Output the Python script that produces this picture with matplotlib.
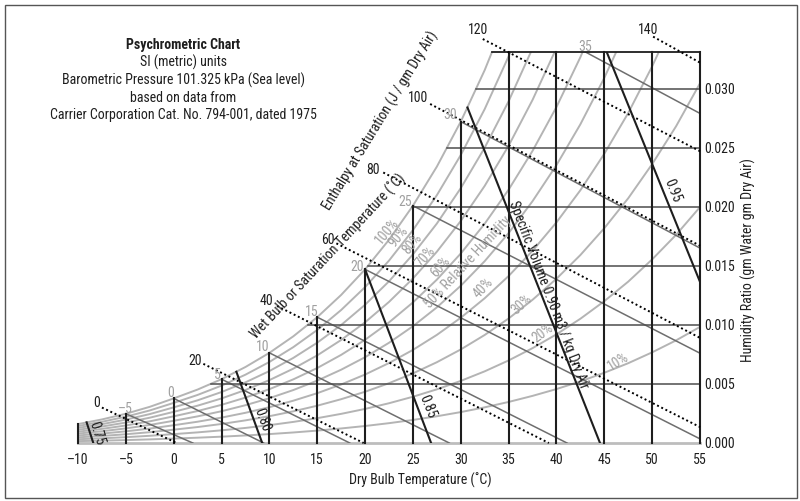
"""
Psychrometric chart (SI units, sea level) redrawn with matplotlib.
"""
import numpy as np
import matplotlib
matplotlib.use("Agg")
import matplotlib.pyplot as plt
from matplotlib import font_manager
from matplotlib.patches import Rectangle
from matplotlib.textpath import TextPath

P_ATM = 101.325   # kPa, sea level
W_TOP = 0.0331    # humidity ratio at top edge of the chart

## Saturation vapour pressure table (kPa), over ice below 0 C
TABLE_T = np.arange(-10, 55.1, 2.5)
P_SAT = [0.2599, 0.3238, 0.4017, 0.4965, 0.6112, 0.7318, 0.8726, 1.0373, 1.2282,
         1.4500, 1.7058, 2.0016, 2.3392, 2.7270, 3.1699, 3.6730, 4.2460, 4.8940,
         5.6290, 6.4570, 7.3849, 8.4250, 9.5944, 10.888, 12.352, 13.958, 15.763]

RH_LEVELS = [10, 20, 30, 40, 50, 60, 70, 80, 90, 100]
RH_LABELS = ["10%", "20%", "30%", "40%", "50% Relative Humidity", "60%", "70%", "80%", "90%", "100%"]
RH_LABEL_AT = [(46.43, 0.00686), (38.6, 0.00932), (36.4, 0.0117), (32.4, 0.0131),
               (30.7, 0.01534), (27.9, 0.01492), (26.3, 0.01580), (24.9, 0.01686),
               (23.44, 0.01746), (22.35, 0.01795)]
RH_LABEL_ROT = [32, 37, 43, 47, 47, 49, 50, 50, 50, 50]

DRY_BULB = [-10, -5, 0, 5, 10, 15, 20, 25, 30, 35, 40, 45, 50, 55]
W_LINES = [0.005, 0.010, 0.015, 0.020, 0.025, 0.030]
W_TICKS = [0.000, 0.005, 0.010, 0.015, 0.020, 0.025, 0.030]

WET_BULB = [-5, 0, 5, 10, 15, 20, 25, 30, 35]
WET_BULB_END = [(2.0, 0.0), (9.4, 0.0), (18.4, 0.0), (28.8, 0.0), (41.1, 0.0),
                (55, 0.00035), (55, 0.0076), (55, 0.0165), (55, 0.0279)]
WET_BULB_LABEL_AT = [(-5.09, 0.00288), (-0.28, 0.00424), (4.53, 0.00576), (9.33, 0.00814),
                     (14.45, 0.0111), (19.16, 0.01492), (24.17, 0.02042), (28.88, 0.0278),
                     (42.98, 0.03356)]

ENTHALPY = [0, 20, 40, 60, 80, 100, 120, 140]
ENTHALPY_START = [(-7.5, 0.0030), (3.1, 0.0067), (10.8, 0.0116), (17.0, 0.0169),
                  (21.9, 0.0229), (26.8, 0.0287), (32.3, 0.0342), (50.1, 0.0344)]
ENTHALPY_END = [(0.3, 0.0), (19.85, 0.0), (39.2, 0.0), (55, 0.00135),
                (55, 0.0089), (55, 0.0167), (55, 0.0247), (55, 0.0322)]
ENTHALPY_LABEL_AT = [(-8.05, 0.00336), (2.23, 0.00695), (9.72, 0.01198), (16.16, 0.0172),
                     (20.86, 0.02314), (25.56, 0.02921), (31.83, 0.0350), (49.6, 0.0350)]

SPEC_VOL = ["0.75", "0.80", "0.85", "Specific Volume 0.90 m3 / kg Dry Air", "0.95"]
SPEC_VOL_START = [(-9.1, 0.00175), (6.55, 0.00603), (20.0, 0.0147), (30.7, 0.0284), (45.25, 0.0331)]
SPEC_VOL_END = [(-8.4, 0.0), (9.25, 0.0), (26.9, 0.0), (44.55, 0.0), (55, 0.01364)]
SPEC_VOL_LABEL_AT = [(-8.01, 0.00085), (9.23, 0.00195), (26.47, 0.00305), (39.12, 0.01254), (52.08, 0.02136)]
SPEC_VOL_ROT = [-73, -70, -68, -69, -68]

DARK = "#1e1e1e"
HGREY = "#4d4d4d"
WBGREY = "#6e6e6e"
RHGREY = "#b4b4b4"
LABGREY = "#a0a0a0"

## The original uses a condensed grotesque: pick the narrowest installed sans
FAMILIES = ["Liberation Sans Narrow", "Roboto Condensed", "Noto Sans", "DejaVu Sans",
            "Roboto", "Open Sans", "Liberation Sans", "Lato", "Inter"]
SAMPLE = "Carrier Corporation Cat. No. 794-001, dated 1975"
SAMPLE_PX = 266


def pick_font():
    best = None
    for f in font_manager.fontManager.ttflist:
        if f.name not in FAMILIES or f.style != "normal":
            continue
        if f.weight not in (400, "normal", "regular", "book"):
            continue
        try:
            tp = TextPath((0, 0), SAMPLE, size=10, prop=font_manager.FontProperties(fname=f.fname))
        except Exception:
            continue
        width = tp.get_extents().width * 100 / 72
        if best is None or abs(width - SAMPLE_PX) < abs(best[0] - SAMPLE_PX):
            best = (width, f.name, f.stretch)
    width, name, stretch = best
    plt.rcParams["font.family"] = name
    plt.rcParams["font.stretch"] = stretch
    plt.rcParams["font.size"] = float(np.clip(10 * SAMPLE_PX / width, 8.6, 10.5))


def w_from_pv(pv):
    return 0.622 * pv / (P_ATM - pv)


def main():
    pick_font()
    p_sat = np.array(P_SAT)
    w_sat = w_from_pv(p_sat)
    w_sat_at = dict(zip(TABLE_T, w_sat))

    fig = plt.figure(figsize=(8, 5.01), dpi=100)
    ax = fig.add_axes([78 / 800, 58 / 501, 622 / 800, 391 / 501])
    ax.set_xlim(-10, 55)
    ax.set_ylim(0, W_TOP)
    for s in ax.spines.values():
        s.set_visible(False)

    ## Relative humidity curves
    ax.plot([-10, 55], [0, 0], color="#bdbdbd", lw=2.0, zorder=1, clip_on=False)
    for rh in RH_LEVELS:
        pv = rh / 100 * p_sat
        ax.plot(TABLE_T, w_from_pv(pv), color=RHGREY, lw=1.4, zorder=1)
    for text, (t, w), rot in zip(RH_LABELS, RH_LABEL_AT, RH_LABEL_ROT):
        ax.text(t, w, text, color=LABGREY, rotation=rot, rotation_mode="anchor",
                ha="center", va="center", zorder=6)

    ## Wet bulb lines
    for twb, (t1, w1), (tl, wl) in zip(WET_BULB, WET_BULB_END, WET_BULB_LABEL_AT):
        ax.plot([twb, t1], [w_sat_at[twb], w1], color=WBGREY, lw=1.1, zorder=2)
        ax.text(tl, wl, str(twb).replace("-", "\u2013"), color=LABGREY,
                ha="center", va="center", clip_on=False, zorder=6)

    ## Humidity ratio lines
    for w in W_LINES:
        ax.plot([np.interp(w, w_sat, TABLE_T), 55], [w, w], color=HGREY, lw=1.1, zorder=3)
    ax.plot([np.interp(W_TOP, w_sat, TABLE_T), 55], [W_TOP, W_TOP], color=DARK,
            lw=1.3, zorder=3, clip_on=False)

    ## Dry bulb lines
    for t in DRY_BULB:
        ax.plot([t, t], [0, min(w_sat_at[t], W_TOP)], color=DARK, lw=1.5, zorder=4,
                clip_on=False)

    ## Enthalpy lines
    for h, (t0, w0), (t1, w1), (tl, wl) in zip(ENTHALPY, ENTHALPY_START, ENTHALPY_END, ENTHALPY_LABEL_AT):
        ax.plot([t0, t1], [w0, w1], color="black", lw=1.4, ls=(0, (1, 1.4)), zorder=5,
                clip_on=False)
        ax.text(tl, wl, str(h), color=DARK, ha="center", va="center", clip_on=False, zorder=6)

    ## Specific volume lines
    for text, (t0, w0), (t1, w1), (tl, wl), rot in zip(SPEC_VOL, SPEC_VOL_START, SPEC_VOL_END,
                                                        SPEC_VOL_LABEL_AT, SPEC_VOL_ROT):
        ax.plot([t0, t1], [w0, w1], color=DARK, lw=1.5, zorder=5)
        ax.text(tl, wl, text, color=DARK, rotation=rot, rotation_mode="anchor",
                ha="center", va="center", zorder=6)

    ## Axis names along the saturation curve
    ax.text(16.13, 0.01576, "Wet Bulb or Saturation Temperature (\u02daC)", color=DARK,
            rotation=47, rotation_mode="anchor", ha="center", va="center", zorder=6)
    ax.text(21.66, 0.02729, "Enthalpy at Saturation (J / gm Dry Air)", color=DARK,
            rotation=58.5, rotation_mode="anchor", ha="center", va="center", clip_on=False, zorder=6)

    ## Ticks
    ax.set_xticks(DRY_BULB)
    ax.set_xticklabels([str(t).replace("-", "\u2013") for t in DRY_BULB])
    ax.yaxis.tick_right()
    ax.set_yticks(W_TICKS)
    ax.set_yticklabels([f"{w:.3f}" for w in W_TICKS])
    ax.tick_params(axis="x", length=0, pad=7, colors=DARK)
    ax.tick_params(axis="y", length=0, pad=3, colors=DARK)

    fig.text(420 / 800, 1 - 480 / 501, "Dry Bulb Temperature (\u02daC)", color=DARK,
             ha="center", va="center")
    fig.text(748 / 800, 1 - 260 / 501, "Humidity Ratio (gm Water gm Dry Air)", color=DARK,
             rotation=90, ha="center", va="center")

    ## Title block
    title_lines = ["SI (metric) units", "Barometric Pressure 101.325 kPa (Sea level)",
                   "based on data from", "Carrier Corporation Cat. No. 794-001, dated 1975"]
    fig.text(183 / 800, 1 - 45 / 501, "Psychrometric Chart", weight="bold", color=DARK,
             ha="center", va="center")
    for i, line in enumerate(title_lines):
        fig.text(183 / 800, 1 - (62.5 + 17.5 * i) / 501, line, color=DARK,
                 ha="center", va="center")

    fig.add_artist(Rectangle((5 / 800, 3 / 501), 792 / 800, 493 / 501, transform=fig.transFigure,
                             fill=False, ec="#555555", lw=1.0))

    fig.savefig("out.png", dpi=100)
    plt.close(fig)


if __name__ == "__main__":
    main()
